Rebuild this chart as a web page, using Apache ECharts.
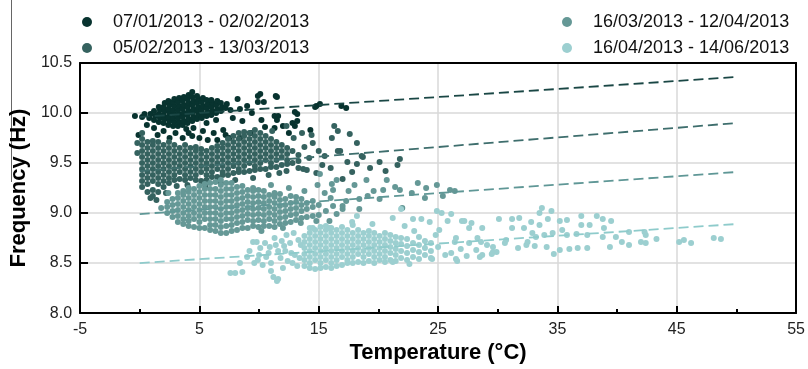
<!DOCTYPE html>
<html>
<head>
<meta charset="utf-8">
<script src="https://cdn.jsdelivr.net/npm/echarts@6/dist/echarts.min.js"></script>
<style>
  html, body { margin: 0; padding: 0; background: #fff; }
  #chart { width: 808px; height: 369px; }
</style>
</head>
<body>
<div id="chart"></div>
<script>
var periods = [
  '07/01/2013 - 02/02/2013',
  '05/02/2013 - 13/03/2013',
  '16/03/2013 - 12/04/2013',
  '16/04/2013 - 14/06/2013'
];
var colors = ['#08332f', '#35625f', '#659896', '#9ccfd0'];
var lineColors = ['#1a4745', '#3e6e6d', '#5f9796', '#8ecbcb'];

// [temperature, frequency]
var s1Points = [
  [-0.4,9.97],[0.2,9.96],[0.4,9.99],[0.8,9.95],[0.9,9.99],
  [1.2,9.93],[1.3,9.97],[1.2,10.02],
  [1.6,9.91],[1.7,9.95],[1.6,9.99],[1.7,10.03],[1.6,10.06],
  [2.0,9.9],[2.1,9.94],[2.0,9.98],[2.1,10.02],[2.0,10.06],[2.1,10.1],
  [2.4,9.88],[2.5,9.92],[2.4,9.96],[2.5,10.0],[2.4,10.04],[2.5,10.08],[2.4,10.12],
  [2.8,9.87],[2.9,9.91],[2.8,9.95],[2.9,9.99],[2.8,10.03],[2.9,10.07],[2.8,10.11],[2.9,10.14],
  [3.2,9.87],[3.3,9.91],[3.2,9.95],[3.3,9.99],[3.2,10.03],[3.3,10.07],[3.2,10.11],[3.3,10.15],
  [3.6,9.88],[3.7,9.92],[3.6,9.96],[3.7,10.0],[3.6,10.04],[3.7,10.08],[3.6,10.12],[3.7,10.16],
  [4.0,9.9],[4.1,9.94],[4.0,9.98],[4.1,10.02],[4.0,10.06],[4.1,10.1],[4.0,10.14],[4.1,10.18],
  [4.4,9.92],[4.5,9.96],[4.4,10.0],[4.5,10.04],[4.4,10.08],[4.5,10.12],[4.4,10.16],[4.4,10.21],
  [4.8,9.94],[4.9,9.98],[4.8,10.02],[4.9,10.06],[4.8,10.1],[4.9,10.14],[4.8,10.17],
  [5.2,9.95],[5.3,9.99],[5.2,10.03],[5.3,10.07],[5.2,10.11],[5.3,10.15],
  [5.6,9.97],[5.7,10.01],[5.6,10.05],[5.7,10.09],[5.6,10.13],
  [6.0,9.98],[6.1,10.02],[6.0,10.06],[6.1,10.1],[6.0,10.13],
  [6.4,10.0],[6.5,10.04],[6.4,10.08],[6.5,10.12],
  [6.8,10.02],[6.9,10.06],[6.8,10.1],[7.2,10.05],[7.3,10.09],
  [8.2,10.14],[9.9,10.17],[9.9,10.11],[11.5,10.16],[11.3,9.97],[13.2,9.99],[14.8,10.07],
  [12.8,9.9],[12.0,9.87],[10.1,10.19],[11.4,10.17],[9.0,10.07],[10.4,10.11],[15.1,10.09],
  [16.9,10.07],[17.3,10.05],[14.7,10.06],[13.0,10.01],[13.2,9.92],[11.6,9.97],[11.5,9.93],
  [10.2,9.93],[7.8,9.95],[8.6,9.92],[7.0,9.83],[11.3,9.85],[13.0,9.87],[7.6,10.03],
  [8.4,10.04],[9.4,10.0],[5.6,9.9],[6.4,9.93],
  [3.9,9.84],[4.5,9.85],[4.4,9.77],[5.0,9.75],[5.7,9.73],[6.5,9.73],[7.5,9.75],[8.4,9.75],
  [2.5,9.75],[3.6,9.75],[1.2,9.85],[0.6,9.88],[2.0,9.82],[3.0,9.8],[5.3,9.82],[6.2,9.8],
  [7.2,9.78],[4.1,9.8],[1.5,9.78],[-0.1,9.78],[9.3,9.8],[10.5,9.86],[12.5,9.8],[14.3,9.83]
];

var s2Points = [
  [-0.2,9.6],[-0.2,9.7],[0.2,9.8],
  [0.2,9.26],[0.2,9.32],[0.2,9.38],[0.2,9.44],[0.2,9.5],[0.2,9.56],[0.2,9.62],[0.2,9.68],[0.2,9.74],
  [0.65,9.21],[0.65,9.29],[0.65,9.35],[0.65,9.41],[0.65,9.47],[0.65,9.53],[0.65,9.59],[0.65,9.65],[0.65,9.71],
  [1.1,9.17],[1.1,9.23],[1.1,9.32],[1.1,9.38],[1.1,9.44],[1.1,9.5],[1.1,9.56],[1.1,9.62],[1.1,9.68],[1.1,9.72],
  [1.55,9.21],[1.55,9.29],[1.55,9.35],[1.55,9.41],[1.55,9.47],[1.55,9.53],[1.55,9.59],[1.55,9.65],[1.55,9.71],
  [2.0,9.26],[2.0,9.32],[2.0,9.38],[2.0,9.44],[2.0,9.5],[2.0,9.56],[2.0,9.62],[2.0,9.68],
  [2.45,9.3],[2.45,9.35],[2.45,9.41],[2.45,9.47],[2.45,9.53],[2.45,9.59],[2.45,9.65],[2.45,9.71],
  [2.9,9.33],[2.9,9.38],[2.9,9.44],[2.9,9.5],[2.9,9.56],[2.9,9.62],[2.9,9.68],
  [3.35,9.34],[3.35,9.41],[3.35,9.47],[3.35,9.53],[3.35,9.59],[3.35,9.65],
  [3.8,9.33],[3.8,9.38],[3.8,9.44],[3.8,9.5],[3.8,9.56],[3.8,9.62],[3.8,9.68],
  [4.25,9.35],[4.25,9.41],[4.25,9.47],[4.25,9.53],[4.25,9.59],[4.25,9.65],
  [4.7,9.33],[4.7,9.38],[4.7,9.44],[4.7,9.5],[4.7,9.56],[4.7,9.62],[4.7,9.66],
  [5.15,9.32],[5.15,9.41],[5.15,9.47],[5.15,9.53],[5.15,9.59],[5.15,9.64],
  [5.6,9.33],[5.6,9.38],[5.6,9.44],[5.6,9.5],[5.6,9.56],[5.6,9.62],
  [6.05,9.36],[6.05,9.41],[6.05,9.47],[6.05,9.53],[6.05,9.59],[6.05,9.65],
  [6.5,9.36],[6.5,9.44],[6.5,9.5],[6.5,9.56],[6.5,9.62],[6.5,9.67],
  [6.95,9.38],[6.95,9.41],[6.95,9.47],[6.95,9.53],[6.95,9.59],[6.95,9.65],[6.95,9.7],
  [7.4,9.38],[7.4,9.44],[7.4,9.5],[7.4,9.56],[7.4,9.62],[7.4,9.68],[7.4,9.74],
  [7.85,9.4],[7.85,9.47],[7.85,9.53],[7.85,9.59],[7.85,9.65],[7.85,9.71],[7.85,9.77],
  [8.3,9.41],[8.3,9.44],[8.3,9.5],[8.3,9.56],[8.3,9.62],[8.3,9.68],[8.3,9.74],[8.3,9.8],
  [8.75,9.41],[8.75,9.47],[8.75,9.53],[8.75,9.59],[8.75,9.65],[8.75,9.71],[8.75,9.77],[8.75,9.81],
  [9.2,9.42],[9.2,9.5],[9.2,9.56],[9.2,9.62],[9.2,9.68],[9.2,9.74],[9.2,9.8],
  [9.65,9.43],[9.65,9.47],[9.65,9.53],[9.65,9.59],[9.65,9.65],[9.65,9.71],[9.65,9.77],[9.65,9.83],
  [10.1,9.44],[10.1,9.5],[10.1,9.56],[10.1,9.62],[10.1,9.68],[10.1,9.74],[10.1,9.8],
  [10.55,9.44],[10.55,9.53],[10.55,9.59],[10.55,9.65],[10.55,9.71],[10.55,9.77],
  [11.0,9.46],[11.0,9.5],[11.0,9.56],[11.0,9.62],[11.0,9.68],[11.0,9.74],
  [11.45,9.46],[11.45,9.53],[11.45,9.59],[11.45,9.65],[11.45,9.71],
  [11.9,9.48],[11.9,9.56],[11.9,9.62],[11.9,9.68],
  [12.35,9.49],[12.35,9.53],[12.35,9.59],[12.35,9.65],
  [12.8,9.5],[12.8,9.62],[13.3,9.52],[13.3,9.58],
  [11.1,9.82],[12.3,9.87],[13.7,9.44],[14.0,9.43],[16.8,9.62],[18.7,9.56],[20.1,9.51],
  [21.8,9.54],[21.6,9.48],[17.4,9.51],[18.2,9.49],[16.3,9.87],[16.6,9.82],[16.1,9.75],
  [17.6,9.79],[18.2,9.7],[16.6,9.62],[15.5,9.57],[18.6,9.57],[17.8,9.41],[17.0,9.34],
  [14.5,9.7],[15.0,9.62],[14.2,9.55],[13.8,9.66],[15.3,9.48],[14.8,9.4],[12.9,9.75],
  [13.6,9.8],[14.4,9.78],[13.3,9.45],[16.0,9.45],[19.3,9.45],[20.6,9.42],[12.3,9.42],
  [0.9,9.15],[1.4,9.13],[2.2,9.2],[3.1,9.27],[4.0,9.28],[5.5,9.27],[6.8,9.3],[8.0,9.33],
  [9.5,9.35],[10.8,9.38],[11.7,9.4]
];

var s3Points = [
  [1.8,9.05],[2.3,9.0],[2.3,9.06],[2.3,9.11],
  [2.75,8.96],[2.75,9.02],[2.75,9.08],[2.75,9.14],
  [3.2,8.91],[3.2,8.97],[3.2,9.03],[3.2,9.09],[3.2,9.15],[3.2,9.2],
  [3.65,8.89],[3.65,8.94],[3.65,9.0],[3.65,9.06],[3.65,9.12],[3.65,9.18],[3.65,9.22],
  [4.1,8.87],[4.1,8.92],[4.1,8.97],[4.1,9.03],[4.1,9.09],[4.1,9.15],[4.1,9.21],[4.1,9.25],
  [4.55,8.86],[4.55,8.94],[4.55,9.0],[4.55,9.06],[4.55,9.12],[4.55,9.18],[4.55,9.24],
  [5.0,8.85],[5.0,8.91],[5.0,8.97],[5.0,9.03],[5.0,9.09],[5.0,9.15],[5.0,9.21],[5.0,9.27],
  [5.45,8.85],[5.45,8.94],[5.45,9.0],[5.45,9.06],[5.45,9.12],[5.45,9.18],[5.45,9.24],[5.45,9.29],
  [5.9,8.83],[5.9,8.88],[5.9,8.94],[5.9,9.0],[5.9,9.06],[5.9,9.12],[5.9,9.18],[5.9,9.24],[5.9,9.3],
  [6.35,8.82],[6.35,8.88],[6.35,8.94],[6.35,9.0],[6.35,9.06],[6.35,9.12],[6.35,9.18],[6.35,9.24],[6.35,9.31],
  [6.8,8.8],[6.8,8.86],[6.8,8.92],[6.8,8.98],[6.8,9.04],[6.8,9.1],[6.8,9.16],[6.8,9.22],[6.8,9.28],[6.8,9.33],
  [7.25,8.8],[7.25,8.87],[7.25,8.94],[7.25,9.0],[7.25,9.06],[7.25,9.12],[7.25,9.18],[7.25,9.24],[7.25,9.3],
  [7.7,8.82],[7.7,8.88],[7.7,8.94],[7.7,9.0],[7.7,9.06],[7.7,9.12],[7.7,9.18],[7.7,9.24],[7.7,9.3],
  [8.15,8.83],[8.15,8.9],[8.15,8.96],[8.15,9.02],[8.15,9.08],[8.15,9.14],[8.15,9.2],[8.15,9.26],
  [8.6,8.85],[8.6,8.91],[8.6,8.97],[8.6,9.03],[8.6,9.09],[8.6,9.15],[8.6,9.21],[8.6,9.27],
  [9.05,8.85],[9.05,8.93],[9.05,8.99],[9.05,9.05],[9.05,9.11],[9.05,9.17],[9.05,9.23],
  [9.5,8.87],[9.5,8.92],[9.5,8.98],[9.5,9.04],[9.5,9.1],[9.5,9.16],[9.5,9.22],[9.5,9.25],
  [9.95,8.86],[9.95,8.93],[9.95,8.99],[9.95,9.05],[9.95,9.11],[9.95,9.17],[9.95,9.23],
  [10.4,8.87],[10.4,8.92],[10.4,8.98],[10.4,9.04],[10.4,9.1],[10.4,9.16],[10.4,9.22],
  [10.85,8.87],[10.85,8.94],[10.85,9.0],[10.85,9.06],[10.85,9.12],[10.85,9.18],
  [11.3,8.86],[11.3,8.92],[11.3,8.98],[11.3,9.04],[11.3,9.1],[11.3,9.16],[11.3,9.2],
  [11.75,8.89],[11.75,8.95],[11.75,9.01],[11.75,9.07],[11.75,9.13],[11.75,9.19],
  [12.2,8.9],[12.2,8.96],[12.2,9.02],[12.2,9.08],[12.2,9.14],
  [12.65,8.91],[12.65,8.98],[12.65,9.04],[12.65,9.1],[12.65,9.17],
  [13.1,8.93],[13.1,8.99],[13.1,9.05],[13.1,9.11],[13.1,9.16],
  [13.55,8.95],[13.55,9.02],[13.55,9.08],[13.55,9.14],
  [14.0,8.96],[14.0,9.04],[14.0,9.1],[14.5,8.97],[14.5,9.06],[14.5,9.12],[15.0,8.98],[15.0,9.08],
  [15.1,9.39],[16.5,9.33],[19.0,9.33],[20.7,9.33],[20.4,9.23],[21.8,9.23],[24.0,9.25],
  [24.9,9.28],[25.4,9.17],[26.0,9.23],[26.4,9.22],[20.1,9.14],[19.1,9.17],[18.4,9.14],
  [17.0,9.04],[16.2,9.07],[22.0,9.05],[21.4,9.26],[23.9,9.15],[14.8,8.92],[16.5,8.99],
  [15.9,8.92],[17.0,9.07],[18.4,9.04],[15.5,9.2],[16.0,9.15],[17.5,9.22],[18.0,9.28],
  [16.1,9.29],[14.9,9.28],[16.2,9.23],[13.8,9.22],[12.5,9.25],[11.0,9.28],[17.3,9.12],
  [19.6,9.22],[22.8,9.2],[23.3,9.3],[15.6,9.02],[13.5,8.9],[12.0,8.85],[10.2,8.82],[2.4,9.2]
];

var s4Points = [
  [7.6,8.4],[8.0,8.4],[8.6,8.41],[11.2,8.36],[11.6,8.34],[9.0,8.56],[9.8,8.71],[10.1,8.65],
  [10.6,8.56],[9.5,8.71],[11.5,8.32],[8.4,8.5],[9.6,8.5],[10.3,8.48],[10.8,8.6],[11.0,8.5],
  [11.4,8.68],[11.8,8.55],[11.3,8.75],[12.2,8.62],[12.0,8.45],[12.6,8.7],[12.4,8.52],
  [13.0,8.58],[12.9,8.8],[13.2,8.47],[13.5,8.68],
  [9.2,8.62],[10.5,8.7],[11.9,8.72],[12.3,8.78],[10.0,8.58],[12.7,8.6],[13.3,8.73],
  [11.0,8.42],[12.8,8.5],[13.4,8.55],[10.9,8.66],[9.9,8.53],[12.1,8.67],[11.6,8.62],
  [13.8,8.47],[13.8,8.53],[13.8,8.59],[13.8,8.65],[13.8,8.71],[13.8,8.77],
  [14.25,8.45],[14.25,8.5],[14.25,8.56],[14.25,8.62],[14.25,8.68],[14.25,8.74],[14.25,8.8],[14.25,8.85],
  [14.7,8.44],[14.7,8.53],[14.7,8.59],[14.7,8.65],[14.7,8.71],[14.7,8.77],[14.7,8.83],
  [15.15,8.45],[15.15,8.5],[15.15,8.56],[15.15,8.62],[15.15,8.68],[15.15,8.74],[15.15,8.8],[15.15,8.86],
  [15.6,8.46],[15.6,8.53],[15.6,8.59],[15.6,8.65],[15.6,8.71],[15.6,8.77],[15.6,8.83],[15.6,8.87],
  [16.05,8.45],[16.05,8.5],[16.05,8.56],[16.05,8.62],[16.05,8.68],[16.05,8.74],[16.05,8.8],[16.05,8.85],
  [16.5,8.47],[16.5,8.53],[16.5,8.59],[16.5,8.65],[16.5,8.71],[16.5,8.77],[16.5,8.83],
  [16.95,8.48],[16.95,8.56],[16.95,8.62],[16.95,8.68],[16.95,8.74],[16.95,8.8],[16.95,8.86],
  [17.4,8.5],[17.4,8.53],[17.4,8.59],[17.4,8.65],[17.4,8.71],[17.4,8.77],[17.4,8.83],
  [17.85,8.5],[17.85,8.56],[17.85,8.62],[17.85,8.68],[17.85,8.74],[17.85,8.8],[17.85,8.88],
  [18.3,8.51],[18.3,8.59],[18.3,8.65],[18.3,8.71],[18.3,8.77],[18.3,8.83],
  [18.75,8.5],[18.75,8.56],[18.75,8.62],[18.75,8.68],[18.75,8.74],[18.75,8.8],
  [19.2,8.52],[19.2,8.59],[19.2,8.65],[19.2,8.71],[19.2,8.77],[19.2,8.82],
  [19.65,8.5],[19.65,8.56],[19.65,8.62],[19.65,8.68],[19.65,8.74],[19.65,8.8],
  [20.1,8.53],[20.1,8.59],[20.1,8.65],[20.1,8.71],[20.1,8.77],
  [20.55,8.51],[20.55,8.56],[20.55,8.62],[20.55,8.68],[20.55,8.74],[20.55,8.8],
  [21.0,8.53],[21.0,8.6],[21.0,8.66],[21.0,8.72],[21.0,8.78],
  [21.45,8.52],[21.45,8.58],[21.45,8.64],[21.45,8.7],[21.45,8.76],
  [21.9,8.55],[21.9,8.62],[21.9,8.69],[21.9,8.75],
  [22.4,8.53],[22.4,8.6],[22.4,8.67],[22.4,8.74],
  [22.9,8.56],[22.9,8.63],[22.9,8.7],
  [23.4,8.54],[23.4,8.61],[23.4,8.68],[23.4,8.76],
  [23.9,8.58],[23.9,8.65],[23.9,8.72],[24.4,8.55],[24.4,8.62],[24.4,8.7],
  [14.5,8.85],[15.9,8.85],[17.8,8.91],[18.2,8.97],[19.5,8.89],[21.2,8.95],[21.9,9.04],
  [22.9,8.94],[23.6,8.94],[24.3,8.91],[24.9,9.02],[25.3,9.0],[25.8,8.92],[27.0,8.92],
  [27.6,8.85],[28.7,8.85],[28.3,8.75],[26.5,8.75],[25.1,8.83],[29.1,8.68],[29.6,8.61],
  [28.5,8.56],[26.5,8.54],[24.5,8.54],[22.6,8.49],[21.2,8.51],
  [26.1,8.99],[27.2,8.92],[27.8,8.9],[30.1,8.94],[31.2,8.94],[31.8,8.95],[32.8,8.91],
  [33.7,9.05],[33.5,9.0],[34.5,9.02],[34.2,8.94],[35.2,8.92],[35.8,8.93],[37.0,8.97],
  [38.3,8.97],[38.8,8.94],[39.5,8.92],[37.0,8.88],[37.7,8.88],[38.9,8.85],[31.2,8.85],
  [32.2,8.85],[33.5,8.88],[32.9,8.8],[33.9,8.78],[34.6,8.8],[35.8,8.78],[36.6,8.79],
  [37.5,8.78],[38.8,8.76],[39.9,8.76],[40.4,8.71],[41.0,8.68],[42.0,8.71],[42.4,8.7],
  [43.3,8.74],[45.2,8.71],[45.6,8.73],[46.2,8.7],[48.1,8.75],[48.7,8.74],[42.4,8.78],
  [41.0,8.81],[42.3,8.81],[39.4,8.66],[37.5,8.65],[36.7,8.65],[35.2,8.63],[36.0,8.64],
  [34.7,8.59],[34.1,8.66],[33.1,8.67],[32.4,8.68],[31.7,8.65],[30.6,8.7],[29.6,8.66],
  [29.5,8.59],[28.7,8.58],[28.2,8.63],[28.6,8.71],[27.6,8.7],[26.4,8.71],[26.6,8.52],
  [26.1,8.6],[29.9,8.61],[30.7,8.73],[32.5,8.71],[33.2,8.76],[35.4,8.83],
  [25.0,8.66],[25.6,8.58],[26.9,8.64],[27.4,8.57],[24.8,8.78],[23.0,8.82],[22.2,8.87]
];

// dashed linear fits for each period
var fits = [
  [[0, 9.96], [50, 10.36]],
  [[0, 9.42], [50, 9.9]],
  [[0, 8.99], [50, 9.41]],
  [[0, 8.5], [50, 8.89]]
];

var xTicks = { min: -5, max: 55, step: 10 };
var yTicks = { min: 8, max: 10.5, step: 0.5 };

var chart = echarts.init(document.getElementById('chart'));
var pointSets = [s1Points, s2Points, s3Points, s4Points];

var series = [];
for (var i = 0; i < 4; i++) {
  series.push({
    name: periods[i],
    type: 'scatter',
    data: pointSets[i],
    symbolSize: 6,
    itemStyle: { color: colors[i], opacity: 1 },
    z: 2
  });
}
for (var j = 0; j < 4; j++) {
  series.push({
    name: 'fit' + j,
    type: 'line',
    data: fits[j],
    symbol: 'none',
    lineStyle: { color: lineColors[j], width: 1.8, type: [10, 5] },
    z: 3
  });
}

var legendBase = {
  orient: 'vertical',
  top: 8,
  itemGap: 8,
  icon: 'circle',
  itemWidth: 22,
  itemHeight: 10,
  textStyle: {
    fontFamily: 'Liberation Sans',
    fontSize: 18,
    color: '#111',
    padding: [0, 0, 0, 10]
  }
};

var labelFont = { fontFamily: 'Liberation Sans', fontSize: 16, color: '#222' };
var nameFont = { fontFamily: 'Liberation Sans', fontSize: 22, fontWeight: 'bold', color: '#000' };
var frameAxis = {
  type: 'value',
  axisLine: { show: true, onZero: false, lineStyle: { color: '#000', width: 2 } },
  axisTick: { show: false },
  axisLabel: { show: false },
  splitLine: { show: false }
};

var option = {
  backgroundColor: '#fff',
  animation: false,
  legend: [
    Object.assign({}, legendBase, { left: 77, data: [periods[0], periods[1]] }),
    Object.assign({}, legendBase, { left: 557, data: [periods[2], periods[3]] })
  ],
  grid: { left: 80, right: 11, top: 63, bottom: 49 },
  xAxis: [{
    type: 'value',
    min: xTicks.min, max: xTicks.max, interval: xTicks.step,
    name: 'Temperature (°C)',
    nameLocation: 'middle',
    nameGap: 20,
    nameTextStyle: nameFont,
    axisLine: { onZero: false, lineStyle: { color: '#000', width: 2 } },
    axisTick: { inside: true, length: 7, lineStyle: { color: '#000', width: 2 } },
    minorTick: { show: true, splitNumber: 2, length: 4, lineStyle: { color: '#000', width: 2 } },
    splitLine: { show: true, lineStyle: { color: '#d9d9d9', width: 1.5 } },
    axisLabel: Object.assign({ margin: 8 }, labelFont)
  }, Object.assign({ position: 'top', min: xTicks.min, max: xTicks.max }, frameAxis)],
  yAxis: [{
    type: 'value',
    min: yTicks.min, max: yTicks.max, interval: yTicks.step,
    name: 'Frequency (Hz)',
    nameLocation: 'middle',
    nameGap: 48,
    nameTextStyle: nameFont,
    axisLine: { show: true, onZero: false, lineStyle: { color: '#000', width: 2 } },
    axisTick: { show: true, inside: true, length: 8, lineStyle: { color: '#000', width: 2 } },
    splitLine: { show: true, lineStyle: { color: '#d9d9d9', width: 1.5 } },
    axisLabel: Object.assign({
      margin: 8,
      formatter: function (v) { return v.toFixed(1); }
    }, labelFont)
  }, Object.assign({ position: 'right', min: yTicks.min, max: yTicks.max }, frameAxis)],
  graphic: [{
    type: 'line',
    shape: { x1: 11.5, y1: 0, x2: 11.5, y2: 182 },
    style: { stroke: '#666', lineWidth: 1 }
  }],
  series: series
};

chart.setOption(option);
window.addEventListener('resize', function () { chart.resize(); });
</script>
</body>
</html>
